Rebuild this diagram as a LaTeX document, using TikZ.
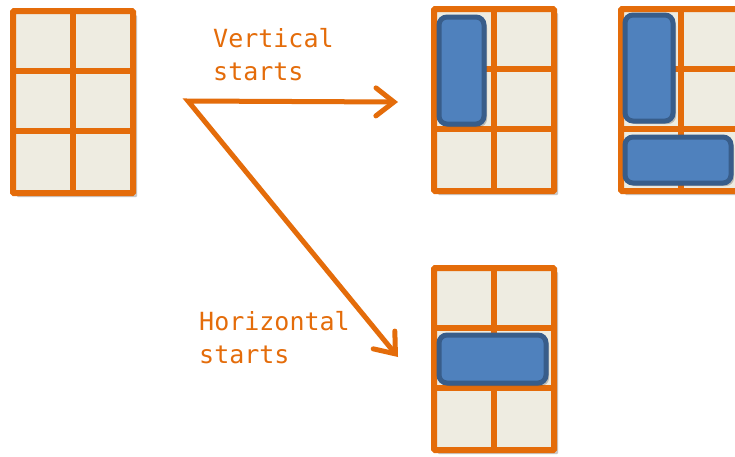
\documentclass[tikz,border=0pt]{standalone}
\usepackage{fontspec}
\newfontfamily\monofont{DejaVu Sans Mono}
\usetikzlibrary{arrows.meta,shadows}
\definecolor{gridorange}{HTML}{E46C0A}
\definecolor{cellfill}{HTML}{EEECE1}
\definecolor{blockfill}{HTML}{4F81BD}
\definecolor{blockline}{HTML}{385D8A}
\tikzset{
  gridframe/.style={draw=gridorange, fill=cellfill, line width=6pt, rounded corners=1pt,
    drop shadow={shadow xshift=4pt, shadow yshift=-4pt, opacity=0.3, fill=black!70}},
  gridline/.style={draw=gridorange, line width=6pt},
  block/.style={draw=blockline, fill=blockfill, line width=5pt, rounded corners=8pt,
    drop shadow={shadow xshift=3pt, shadow yshift=-3pt, opacity=0.3, fill=black!70}},
  flow/.style={draw=gridorange, line width=5pt, line join=miter,
    {Straight Barb[length=18pt,width=28pt,line cap=round]}-{Straight Barb[length=18pt,width=28pt,line cap=round]}},
  label/.style={text=gridorange, font=\monofont\fontsize{25}{33}\selectfont, align=left, inner sep=0pt}
}
\newcommand{\gridsix}[3]{%
  \path[gridframe] (#2,#3) rectangle ++(120,182);
  \coordinate (#1) at (#2,#3);
  \draw[gridline] (#2+60,#3) -- ++(0,182);
  \draw[gridline] (#2,#3+60) -- ++(120,0);
  \draw[gridline] (#2,#3+120) -- ++(120,0);
}
\begin{document}
\begin{tikzpicture}[x=1pt,y=-1pt]
\path[use as bounding box, clip] (0,0) rectangle (735,456);
\fill[white] (0,0) rectangle (735,456);
\gridsix{g1}{13}{11}
\gridsix{g2}{434}{9}
\gridsix{g3}{621}{9}
\gridsix{g4}{434}{268}
\path[block] (439,17) rectangle (484,124);
\path[block] (625,15) rectangle (673,121);
\path[block] (625,137) rectangle (731,183);
\path[block] (439,335) rectangle (546,383);
\coordinate (fork) at (188,101);
\coordinate (vend) at (398,102);
\coordinate (hend) at (398,357);
\draw[flow] (vend) -- (fork) -- (hend);
\node[label, anchor=base west] (vlabel) at (213,80) {Vertical\\starts};
\node[label, anchor=base west] (hlabel) at (199,363) {Horizontal\\starts};
\end{tikzpicture}
\end{document}
